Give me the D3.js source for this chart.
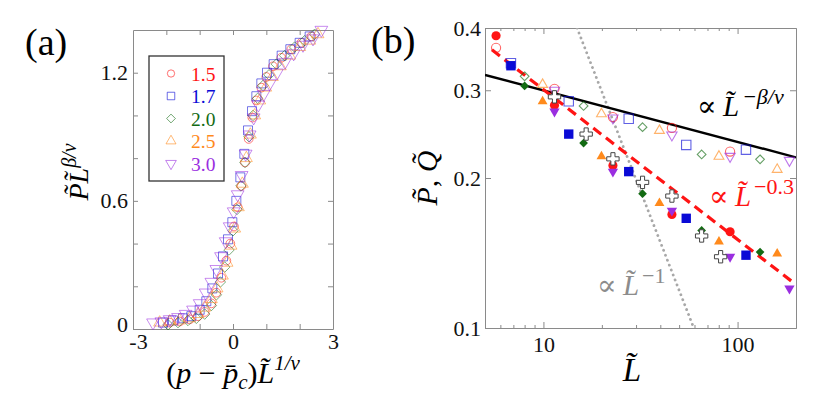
<!DOCTYPE html>
<html>
<head>
<meta charset="utf-8">
<script src="https://cdn.jsdelivr.net/npm/d3@7"></script>
<style>
  body { margin: 0; background: #fff; }
  text { font-family: "Liberation Serif", "DejaVu Serif", serif; }
  .ax path, .ax line { stroke: #8a8a8a; stroke-width: 1; }
  .ax text { font-size: 22px; fill: #111; font-family: "Liberation Serif", serif; }
</style>
</head>
<body>
<svg id="chart" width="814" height="398"></svg>
<script>
// ---------- data ----------
// series labels / colours (shared by both panels)
var alphas = ["1.5", "1.7", "2.0", "2.5", "3.0"];
var colors = ["#ff1414", "#0a0ad6", "#136b13", "#ff8a1c", "#9a2ee0"];

// panel (a): scaling collapse, [x, y] per alpha
var collapse15 = [[-1.9,0.03],[-1.6,0.035],[-1.3,0.045],[-1.05,0.06],[-0.85,0.08],[-0.65,0.12],[-0.5,0.17],[-0.35,0.24],[-0.2,0.32],[-0.08,0.40],[0.03,0.48],[0.14,0.57],[0.25,0.67],[0.36,0.78],[0.47,0.89],[0.58,0.99],[0.7,1.07],[0.85,1.13],[1.0,1.18],[1.2,1.23],[1.45,1.27],[1.75,1.31],[2.05,1.34],[2.35,1.37]];
var collapse17 = [[-2.1,0.03],[-1.8,0.04],[-1.5,0.05],[-1.25,0.06],[-1.0,0.09],[-0.8,0.13],[-0.62,0.19],[-0.45,0.26],[-0.3,0.34],[-0.15,0.42],[-0.02,0.50],[0.1,0.60],[0.22,0.71],[0.34,0.82],[0.45,0.93],[0.57,1.02],[0.7,1.09],[0.85,1.15],[1.02,1.20],[1.22,1.24],[1.46,1.28],[1.72,1.31],[2.0,1.34],[2.3,1.37]];
var collapse20 = [[-1.95,0.02],[-1.65,0.03],[-1.35,0.04],[-1.1,0.05],[-0.85,0.07],[-0.65,0.11],[-0.5,0.16],[-0.38,0.22],[-0.25,0.29],[-0.12,0.37],[0.0,0.46],[0.12,0.56],[0.24,0.67],[0.36,0.78],[0.48,0.90],[0.6,1.00],[0.74,1.08],[0.9,1.14],[1.08,1.19],[1.3,1.24],[1.55,1.28],[1.85,1.32],[2.15,1.35],[2.45,1.38]];
var collapse25 = [[-2.2,0.03],[-1.9,0.035],[-1.6,0.04],[-1.3,0.05],[-1.05,0.07],[-0.85,0.10],[-0.65,0.14],[-0.48,0.19],[-0.32,0.25],[-0.18,0.31],[-0.06,0.39],[0.05,0.47],[0.16,0.57],[0.28,0.68],[0.4,0.80],[0.52,0.91],[0.65,1.00],[0.8,1.07],[0.98,1.13],[1.18,1.18],[1.42,1.23],[1.7,1.28],[2.0,1.32],[2.3,1.35],[2.55,1.38]];
var collapse30 = [[-2.4,0.03],[-2.15,0.035],[-1.9,0.045],[-1.65,0.055],[-1.42,0.07],[-1.2,0.09],[-1.0,0.12],[-0.82,0.17],[-0.65,0.22],[-0.5,0.28],[-0.36,0.34],[-0.22,0.41],[-0.1,0.48],[0.02,0.55],[0.14,0.63],[0.26,0.72],[0.38,0.82],[0.5,0.91],[0.62,0.99],[0.76,1.05],[0.92,1.10],[1.1,1.15],[1.32,1.20],[1.56,1.25],[1.82,1.29],[2.1,1.33],[2.4,1.36],[2.65,1.40]];

// panel (b): system size L and the two order parameters per alpha
var L15 = [5.7, 11.4, 22.8, 45.9, 91.5];
var P15 = [0.365, 0.302, 0.265, 0.252, 0.226];
var Q15 = [0.386, 0.280, 0.212, 0.169, 0.156];
var L17 = [6.8, 13.5, 27.5, 54.4, 110.5];
var P17 = [0.340, 0.285, 0.263, 0.233, 0.228];
var Q17 = [0.336, 0.245, 0.206, 0.166, 0.140];
var L20 = [8.0, 16.1, 32.4, 65.3, 130.6];
var P20 = [0.320, 0.279, 0.253, 0.223, 0.218];
var Q20 = [0.306, 0.235, 0.186, 0.157, 0.142];
var L25 = [9.9, 19.9, 39.6, 80.2, 160];
var P25 = [0.308, 0.269, 0.249, 0.221, 0.208];
var Q25 = [0.285, 0.221, 0.178, 0.149, 0.141];
var L30 = [11.4, 22.8, 45.9, 91.5, 185];
var P30 = [0.300, 0.264, 0.244, 0.221, 0.217];
var Q30 = [0.272, 0.206, 0.172, 0.139, 0.120];
// white crosses
var crossL = [11.4, 16.6, 22.8, 32.4, 45.9, 65.3, 81.8];
var crossV = [0.291, 0.245, 0.2185, 0.196, 0.184, 0.153, 0.139];

// guide lines (end points, L and value)
var lineBeta = [[5, 0.322], [200, 0.220]];
var lineRed  = [[5.43, 0.3616], [189, 0.1243]];
var lineOne  = [[14.9, 0.40], [59.5, 0.10]];

// ---------- set up ----------
var svg = d3.select("#chart");

var collapse = [collapse15, collapse17, collapse20, collapse25, collapse30];
var Ls = [L15, L17, L20, L25, L30];
var Ps = [P15, P17, P20, P25, P30];
var Qs = [Q15, Q17, Q20, Q25, Q30];

// custom symbols
var symDiamond = { draw: function(ctx, size) {
  var r = Math.sqrt(size / 2);
  ctx.moveTo(0, -r); ctx.lineTo(r, 0); ctx.lineTo(0, r); ctx.lineTo(-r, 0); ctx.closePath();
}};
var symTriUp = { draw: function(ctx, size) {
  var s = Math.sqrt(size * 4 / Math.sqrt(3)), h = s * Math.sqrt(3) / 2;
  ctx.moveTo(0, -2 * h / 3); ctx.lineTo(s / 2, h / 3); ctx.lineTo(-s / 2, h / 3); ctx.closePath();
}};
var symTriDown = { draw: function(ctx, size) {
  var s = Math.sqrt(size * 4 / Math.sqrt(3)), h = s * Math.sqrt(3) / 2;
  ctx.moveTo(-s / 2, -h / 3); ctx.lineTo(s / 2, -h / 3); ctx.lineTo(0, 2 * h / 3); ctx.closePath();
}};
var shapes = [d3.symbolCircle, d3.symbolSquare, symDiamond, symTriUp, symTriDown];
var sizeA = [60, 81, 55, 62, 70];
var sizeB = [66, 88, 38, 42, 46];

// ---------- panel (a) ----------
var xA = d3.scaleLinear().domain([-3, 3]).range([133, 333]);
var yA = d3.scaleLinear().domain([0, 1.4]).range([329, 30]);

var gxA = svg.append("g").attr("class", "ax").attr("transform", "translate(0,329)")
  .call(d3.axisBottom(xA).tickValues([-3,-2,-1,0,1,2,3]).tickSize(-5).tickSizeOuter(0).tickPadding(4)
    .tickFormat(function(d) { return (d === -3 || d === 0 || d === 3) ? String(d) : ""; }));
// nudge "-3" a little right so it does not sit on the "0" of the y axis
gxA.selectAll(".tick text").filter(function(d) { return d === -3; }).attr("dx", 5);
svg.append("g").attr("class", "ax").attr("transform", "translate(0,30)")
  .call(d3.axisTop(xA).tickValues([-2,-1,0,1,2]).tickSize(-5).tickSizeOuter(0).tickFormat(""));
var gyA = svg.append("g").attr("class", "ax").attr("transform", "translate(133,0)")
  .call(d3.axisLeft(yA).tickValues([0,0.2,0.4,0.6,0.8,1.0,1.2]).tickSize(-5).tickSizeOuter(0).tickPadding(5)
    .tickFormat(function(d) { return d === 0 ? "0" : (Math.abs(d - 0.6) < 1e-9 ? "0.6" : (Math.abs(d - 1.2) < 1e-9 ? "1.2" : "")); }));
gyA.selectAll(".tick text").filter(function(d) { return d === 0; }).attr("dy", "0.1em");
svg.append("g").attr("class", "ax").attr("transform", "translate(333,0)")
  .call(d3.axisRight(yA).tickValues([0.2,0.4,0.6,0.8,1.0,1.2]).tickSize(-5).tickSizeOuter(0).tickFormat(""));

collapse.forEach(function(series, i) {
  svg.append("g").selectAll("path").data(series).enter().append("path")
    .attr("d", d3.symbol().type(shapes[i]).size(sizeA[i]))
    .attr("transform", function(d) { return "translate(" + xA(d[0]) + "," + yA(d[1]) + ")"; })
    .attr("fill", "none")
    .attr("stroke", colors[i])
    .attr("stroke-opacity", 0.55)
    .attr("stroke-width", 1);
});

// legend
var leg = svg.append("g");
leg.append("rect").attr("x", 149).attr("y", 56).attr("width", 75).attr("height", 125)
  .attr("fill", "#fff").attr("stroke", "#333").attr("stroke-width", 1.3);
alphas.forEach(function(a, i) {
  var cy = 73.5 + i * 22.5;
  leg.append("path").attr("d", d3.symbol().type(shapes[i]).size(sizeA[i] * 0.7))
    .attr("transform", "translate(171," + cy + ")")
    .attr("fill", "none").attr("stroke", colors[i]).attr("stroke-opacity", 0.6);
  leg.append("text").attr("x", 191).attr("y", cy + 7).attr("font-size", 19.5)
    .attr("fill", colors[i]).text(a);
});

// axis titles (a)
svg.append("text").attr("x", 25).attr("y", 55).attr("font-size", 38).text("(a)");

var ttlA = svg.append("text").attr("font-size", 28)
  .attr("transform", "translate(88,172) rotate(-90)").attr("text-anchor", "middle");
ttlA.append("tspan").attr("font-style", "italic").text("P\u0303");
ttlA.append("tspan").attr("font-style", "italic").text("L\u0303");
ttlA.append("tspan").attr("font-style", "italic").attr("font-size", 20).attr("dy", -12).text("\u03b2/\u03bd");

var ttlAx = svg.append("text").attr("font-size", 30).attr("x", 233).attr("y", 383).attr("text-anchor", "middle");
ttlAx.append("tspan").text("(");
ttlAx.append("tspan").attr("font-style", "italic").text("p");
ttlAx.append("tspan").text(" \u2212 ");
ttlAx.append("tspan").attr("font-style", "italic").text("p\u0304");
ttlAx.append("tspan").attr("font-style", "italic").attr("font-size", 21).attr("dy", 6).text("c");
ttlAx.append("tspan").attr("dy", -6).text(")");
ttlAx.append("tspan").attr("font-style", "italic").text("L\u0303");
ttlAx.append("tspan").attr("font-style", "italic").attr("font-size", 21).attr("dy", -13).text("1/\u03bd");

// ---------- panel (b) ----------
var xB = d3.scaleLog().domain([5, 200]).range([485, 796]);
var yB = d3.scaleLog().domain([0.1, 0.4]).range([328, 28]);

var minorX = [6,7,8,9,20,30,40,50,60,70,80,90];
var majorX = [10, 100];
var yTicks = [0.1, 0.2, 0.3, 0.4];

svg.append("g").attr("class", "ax").attr("transform", "translate(0,328)")
  .call(d3.axisBottom(xB).tickValues(minorX).tickSize(-3).tickSizeOuter(0).tickFormat(""));
svg.append("g").attr("class", "ax").attr("transform", "translate(0,328)")
  .call(d3.axisBottom(xB).tickValues(majorX).tickSize(-6).tickSizeOuter(0).tickPadding(8)
    .tickFormat(function(d) { return String(d); }));
svg.append("g").attr("class", "ax").attr("transform", "translate(0,28)")
  .call(d3.axisTop(xB).tickValues(minorX).tickSize(-3).tickSizeOuter(0).tickFormat(""));
svg.append("g").attr("class", "ax").attr("transform", "translate(0,28)")
  .call(d3.axisTop(xB).tickValues(majorX).tickSize(-6).tickSizeOuter(0).tickFormat(""));
svg.append("g").attr("class", "ax").attr("transform", "translate(485,0)")
  .call(d3.axisLeft(yB).tickValues(yTicks).tickSize(-6).tickSizeOuter(0).tickPadding(4)
    .tickFormat(function(d) { return d.toFixed(1); }));
svg.append("g").attr("class", "ax").attr("transform", "translate(796,0)")
  .call(d3.axisRight(yB).tickValues(yTicks).tickSize(-6).tickSizeOuter(0).tickFormat(""));

var line = d3.line().x(function(d) { return xB(d[0]); }).y(function(d) { return yB(d[1]); });

var clip = svg.append("clipPath").attr("id", "clipB");
clip.append("rect").attr("x", 485).attr("y", 28).attr("width", 311).attr("height", 300);

var gB = svg.append("g").attr("clip-path", "url(#clipB)");
gB.append("path").datum(lineOne).attr("d", line).attr("fill", "none")
  .attr("stroke", "#a8a8a8").attr("stroke-width", 2.8).attr("stroke-dasharray", "0.1 5.2").attr("stroke-linecap", "round");
gB.append("path").datum(lineBeta).attr("d", line).attr("fill", "none")
  .attr("stroke", "#000").attr("stroke-width", 2.4);
gB.append("path").datum(lineRed).attr("d", line).attr("fill", "none")
  .attr("stroke", "#ff1414").attr("stroke-width", 3.2).attr("stroke-dasharray", "10 6");

// open markers (P)
Ls.forEach(function(Lv, i) {
  gB.append("g").selectAll("path").data(Lv).enter().append("path")
    .attr("d", d3.symbol().type(shapes[i]).size(sizeB[i]))
    .attr("transform", function(d, j) { return "translate(" + xB(d) + "," + yB(Ps[i][j]) + ")"; })
    .attr("fill", "none").attr("stroke", colors[i]).attr("stroke-opacity", 0.65).attr("stroke-width", 1.1);
});
// filled markers (Q)
Ls.forEach(function(Lv, i) {
  gB.append("g").selectAll("path").data(Lv).enter().append("path")
    .attr("d", d3.symbol().type(shapes[i]).size(sizeB[i]))
    .attr("transform", function(d, j) { return "translate(" + xB(d) + "," + yB(Qs[i][j]) + ")"; })
    .attr("fill", colors[i]).attr("stroke", "none");
});
// crosses
gB.append("g").selectAll("path").data(crossL).enter().append("path")
  .attr("d", d3.symbol().type(d3.symbolCross).size(85))
  .attr("transform", function(d, j) { return "translate(" + xB(d) + "," + yB(crossV[j]) + ")"; })
  .attr("fill", "#fff").attr("stroke", "#444").attr("stroke-width", 1);

// annotations
svg.append("text").attr("x", 371).attr("y", 53).attr("font-size", 38).text("(b)");

function powerLabel(x, y, color, sup, supItalic) {
  var t = svg.append("text").attr("y", y).attr("font-size", 29).attr("fill", color);
  t.append("tspan").attr("x", x).text("\u221d");
  t.append("tspan").attr("x", x + 26).attr("font-style", "italic").text("L\u0303");
  t.append("tspan").attr("x", x + 45).attr("font-size", 22).attr("dy", -12)
    .attr("font-style", supItalic ? "italic" : "normal").text(sup);
  return t;
}
powerLabel(697, 116, "#000", "\u2212\u03b2/\u03bd", true);
powerLabel(709, 206, "#ff1414", "\u22120.3", false);
powerLabel(597, 295, "#8c8c8c", "\u22121", false);

var ttlBy = svg.append("text").attr("font-size", 30)
  .attr("transform", "translate(437,178) rotate(-90)").attr("text-anchor", "middle");
ttlBy.append("tspan").attr("font-style", "italic").text("P\u0303");
ttlBy.append("tspan").text(", ");
ttlBy.append("tspan").attr("font-style", "italic").text("Q\u0303");

svg.append("text").attr("x", 632).attr("y", 381).attr("font-size", 33)
  .attr("font-style", "italic").attr("text-anchor", "middle").text("L\u0303");
</script>
</body>
</html>
